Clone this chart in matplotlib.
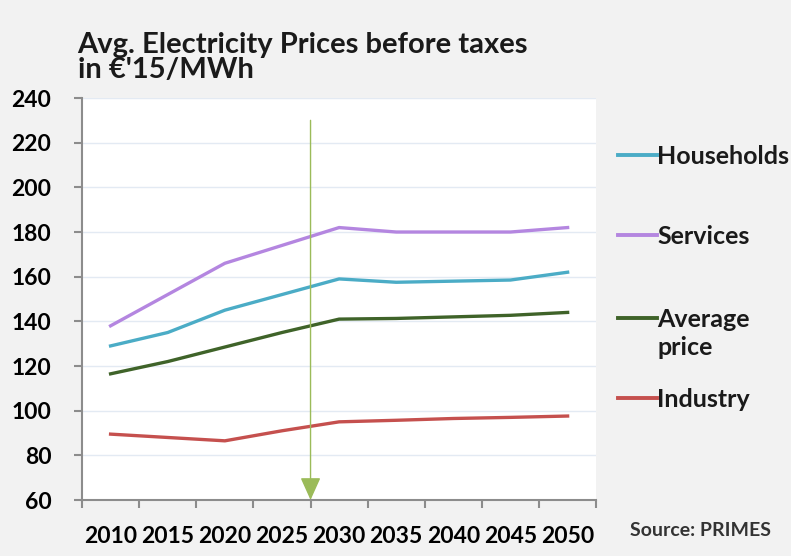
import numpy as np
import matplotlib
matplotlib.use("Agg")
import matplotlib.pyplot as plt
from matplotlib.lines import Line2D
from matplotlib.patches import FancyArrowPatch

years = ["2010", "2015", "2020", "2025", "2030", "2035", "2040", "2045", "2050"]
households = [129, 135, 145, 152, 159, 157.5, 158, 158.5, 162]
services = [138, 152, 166, 174, 182, 180, 180, 180, 182]
average = [116.5, 122, 128.5, 135, 141, 141.3, 142, 142.7, 144]
industry = [89.5, 88, 86.5, 91, 95, 95.7, 96.5, 97, 97.6]

series_names = ["Households", "Services", "Average\nprice", "Industry"]
series_vals = [households, services, average, industry]
series_cols = ["#4BACC6", "#B486E0", "#3F6329", "#C5504E"]

plt.rcParams['font.family'] = ['Lato', 'DejaVu Sans']
plt.rcParams['font.weight'] = 'bold'

fig = plt.figure(figsize=(7.91, 5.56), dpi=100, facecolor="#F2F2F2")
ax = fig.add_axes([0.1037, 0.1007, 0.65, 0.723])
ax.set_facecolor("white")

x = np.arange(len(years))
for vals, col in zip(series_vals, series_cols):
    ax.plot(x, vals, color=col, lw=2.4, solid_joinstyle='round', zorder=3)

ax.set_xlim(-0.5, len(years) - 0.5)
ax.set_ylim(60, 240)
ax.set_yticks(np.arange(60, 241, 20))
ax.yaxis.grid(True, color="#E3EAF3", lw=1)
ax.set_axisbelow(True)

# tick marks between categories, labels at the centres
ax.set_xticks(np.arange(-0.5, len(years), 1))
ax.set_xticklabels([])
ax.set_xticks(x, minor=True)
ax.set_xticklabels(years, minor=True)
ax.tick_params(axis='x', which='minor', length=0, pad=19, labelsize=16.5)
ax.tick_params(axis='x', which='major', length=6, width=1.5, color="#8C8C8C")
ax.tick_params(axis='y', length=6, width=1.5, color="#8C8C8C", pad=16, labelsize=16.5)

for s in ['top', 'right']:
    ax.spines[s].set_visible(False)
for s in ['left', 'bottom']:
    ax.spines[s].set_color("#8C8C8C")
    ax.spines[s].set_linewidth(1.5)

# vertical marker arrow between 2025 and 2030
arrow_x = 3.5
arrow = FancyArrowPatch((arrow_x, 230), (arrow_x, 60), arrowstyle='-|>,head_length=1.0,head_width=0.45',
                        mutation_scale=14, color="#9BBB59", lw=1, shrinkA=0, shrinkB=0, zorder=4)
ax.add_patch(arrow)

fig.text(0.098, 0.85, "Avg. Electricity Prices before taxes\nin €'15/MWh", fontsize=21,
         fontweight='bold', ha='left', va='bottom', linespacing=0.95, color="#1A1A1A")

# legend on the right
leg_y = [0.721, 0.577, 0.428, 0.284]
for name, col, yy in zip(series_names, series_cols, leg_y):
    fig.add_artist(Line2D([0.781, 0.830], [yy, yy], transform=fig.transFigure, color=col, lw=2.8))
    fig.text(0.831, yy + 0.018, name, fontsize=18, fontweight='bold', ha='left', va='top',
             linespacing=1.25, color="#1A1A1A")

fig.text(0.797, 0.03, "Source: PRIMES", fontsize=14, fontweight='bold', ha='left', va='bottom',
         color="#333333")

fig.savefig("out.png", dpi=100, facecolor=fig.get_facecolor())
